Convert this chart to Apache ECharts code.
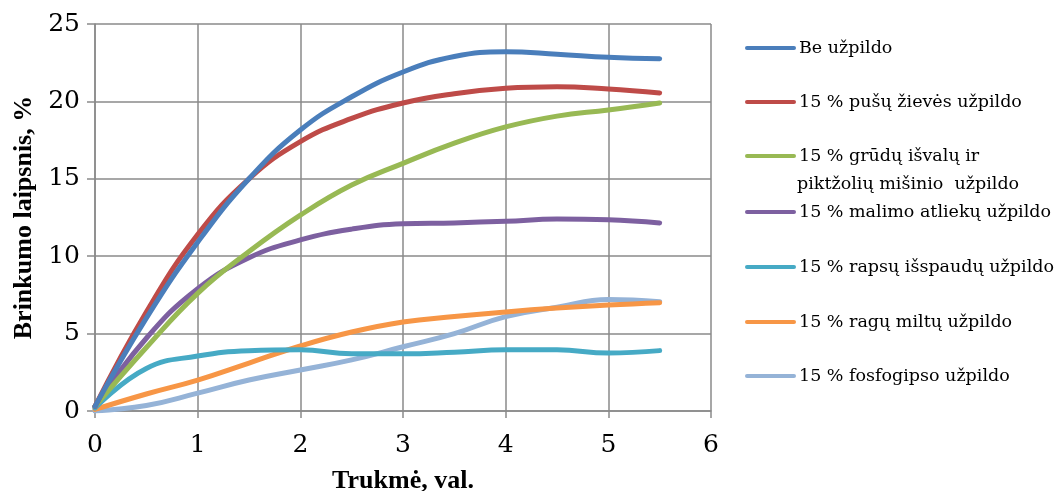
<!DOCTYPE html>
<html>
<head>
<meta charset="utf-8">
<title>Brinkumo laipsnis</title>
<script src="https://cdn.jsdelivr.net/npm/echarts@6/dist/echarts.min.js"></script>
<style>
  html, body { margin: 0; padding: 0; background: #ffffff; }
  #chart { width: 1057px; height: 491px; }
</style>
</head>
<body>
<div id="chart"></div>
<script>
// Swelling degree (%) over time (h) for concrete mixes with different fillers
const hours = [0, 0.5, 1, 1.5, 2, 2.5, 3, 3.5, 4, 4.5, 5, 5.5];

const beUzpildo   = [0.3, 6.0, 10.9, 15.0, 18.15, 20.3, 21.9, 22.9, 23.2, 23.05, 22.85, 22.75];
const pusuZieves  = [0.3, 6.4, 11.4, 15.0, 17.4, 18.9, 19.9, 20.5, 20.85, 20.95, 20.8, 20.55];
const grudu       = [0.3, 4.1, 7.6, 10.3, 12.65, 14.6, 16.0, 17.3, 18.35, 19.05, 19.45, 19.9];
const malimo      = [0.3, 4.7, 7.9, 9.9, 11.05, 11.75, 12.1, 12.15, 12.25, 12.4, 12.35, 12.15];
const rapsu       = [0.2, 2.75, 3.55, 3.9, 3.95, 3.7, 3.7, 3.8, 3.95, 3.95, 3.75, 3.9];
const ragu        = [0.1, 1.1, 2.0, 3.1, 4.2, 5.1, 5.75, 6.1, 6.4, 6.65, 6.85, 7.0];
const fosfogipso  = [0.0, 0.35, 1.15, 2.0, 2.65, 3.3, 4.15, 5.0, 6.1, 6.7, 7.2, 7.05];

const seriesNames = [
  'Be užpildo',
  '15 % pušų žievės užpildo',
  '15 % grūdų išvalų ir piktžolių mišinio  užpildo',
  '15 % malimo atliekų užpildo',
  '15 % rapsų išspaudų užpildo',
  '15 % ragų miltų užpildo',
  '15 % fosfogipso užpildo'
];
// legend text; the third entry wraps onto a second line
const legendLines = [
  ['Be užpildo'],
  ['15 % pušų žievės užpildo'],
  ['15 % grūdų išvalų ir', 'piktžolių mišinio  užpildo'],
  ['15 % malimo atliekų užpildo'],
  ['15 % rapsų išspaudų užpildo'],
  ['15 % ragų miltų užpildo'],
  ['15 % fosfogipso užpildo']
];
const seriesValues = [beUzpildo, pusuZieves, grudu, malimo, rapsu, ragu, fosfogipso];
const seriesColors = ['#4a7ebb', '#be4b48', '#98b954', '#7d60a0', '#46aac5', '#f79646', '#95b3d7'];

const yTicks = { min: 0, max: 25, interval: 5 };
const xTicks = { min: 0, max: 6, interval: 1 };

const xAxisTitle = 'Trukmė, val.';
const yAxisTitle = 'Brinkumo laipsnis, %';

const gridColor = '#8a8a8a';
const tickFont = { fontFamily: 'DejaVu Serif', fontSize: 25, color: '#000' };
const titleFont = { fontFamily: 'Liberation Serif', fontSize: 26, fontWeight: 'bold', color: '#000' };
const legendFont = { fontFamily: 'DejaVu Serif', fontSize: 17.5, color: '#000' };

// vertical centres of the legend rows
const legendRowY = [49, 103, 157, 213, 268, 323, 377];
const legendLeft = 745;
const legendTextLeft = 797;

const series = seriesNames.map((name, i) => ({
  name: name,
  type: 'line',
  smooth: 0.45,
  symbol: 'none',
  data: hours.map((h, k) => [h, seriesValues[i][k]]),
  lineStyle: { color: seriesColors[i], width: 5, cap: 'round', join: 'round' },
  itemStyle: { color: seriesColors[i] },
  emphasis: { disabled: true },
  z: 10 - i
}));

const legends = seriesNames.map((name, i) => ({
  show: true,
  orient: 'vertical',
  left: legendLeft,
  top: legendRowY[i] - 10,
  itemWidth: 47,
  itemHeight: 20,
  padding: 0,
  selectedMode: false,
  data: [name],
  formatter: () => legendLines[i][0],
  lineStyle: { width: 4 },
  itemStyle: { opacity: 0 },
  textStyle: legendFont
}));

// second line of the wrapped legend entry
const graphics = [];
legendLines.forEach((lines, i) => {
  if (lines.length > 1) {
    graphics.push({
      type: 'text',
      left: legendTextLeft,
      top: legendRowY[i] + 29 - 11,
      style: {
        text: lines[1],
        font: `${legendFont.fontSize}px "${legendFont.fontFamily}"`,
        fill: '#000'
      }
    });
  }
});

const chart = echarts.init(document.getElementById('chart'), null, { renderer: 'canvas' });
chart.setOption({
  animation: false,
  backgroundColor: '#ffffff',
  grid: { left: 95, right: 346, top: 24, bottom: 80, containLabel: false, outerBoundsMode: 'none' },
  xAxis: {
    type: 'value',
    min: xTicks.min, max: xTicks.max, interval: xTicks.interval,
    name: xAxisTitle,
    nameLocation: 'middle',
    nameGap: 57,
    nameTextStyle: titleFont,
    axisLine: { show: true, onZero: false, lineStyle: { color: gridColor, width: 1.5 } },
    axisTick: { show: true, length: 7, lineStyle: { color: gridColor, width: 1.5 } },
    axisLabel: Object.assign({ margin: 22 }, tickFont),
    splitLine: { show: true, lineStyle: { color: gridColor, width: 1.5 } }
  },
  yAxis: {
    type: 'value',
    min: yTicks.min, max: yTicks.max, interval: yTicks.interval,
    name: yAxisTitle,
    nameLocation: 'middle',
    nameGap: 58,
    nameTextStyle: titleFont,
    axisLine: { show: true, lineStyle: { color: gridColor, width: 1.5 } },
    axisTick: { show: true, length: 8, lineStyle: { color: gridColor, width: 1.5 } },
    axisLabel: Object.assign({ margin: 15 }, tickFont),
    splitLine: { show: true, lineStyle: { color: gridColor, width: 1.5 } }
  },
  legend: legends,
  graphic: graphics,
  series: series
});
</script>
</body>
</html>
